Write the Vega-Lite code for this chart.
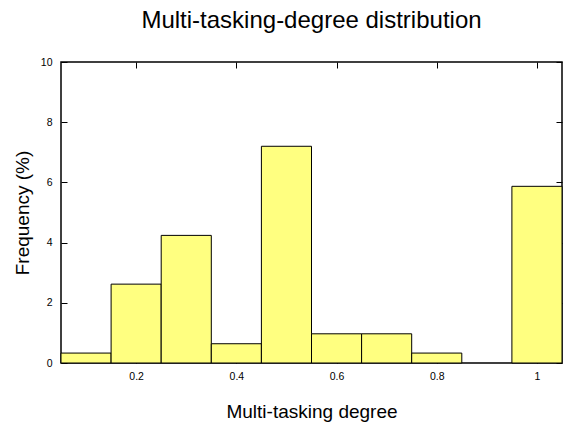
{
  "$schema": "https://vega.github.io/schema/vega-lite/v6.json",
  "autosize": "none",
  "width": 501,
  "height": 301,
  "padding": {"left": 61, "top": 62, "right": 18, "bottom": 62},
  "background": "white",
  "config": {
    "font": "Liberation Sans",
    "view": {"stroke": "black", "strokeWidth": 1.5},
    "axis": {"grid": false, "domain": false, "labelFont": "Liberation Sans", "titleFont": "Liberation Sans", "labelColor": "black", "titleColor": "black", "tickColor": "black", "titleFontWeight": "normal", "labelFontSize": 10.5}
  },
  "title": {"text": "Multi-tasking-degree distribution", "fontSize": 24, "fontWeight": "normal", "font": "Liberation Sans", "color": "black", "anchor": "middle", "offset": 24},
  "data": {"values": [
    {"start": 0.05, "end": 0.15, "freq": 0.33},
    {"start": 0.15, "end": 0.25, "freq": 2.62},
    {"start": 0.25, "end": 0.35, "freq": 4.24},
    {"start": 0.35, "end": 0.45, "freq": 0.64},
    {"start": 0.45, "end": 0.55, "freq": 7.2},
    {"start": 0.55, "end": 0.65, "freq": 0.97},
    {"start": 0.65, "end": 0.75, "freq": 0.97},
    {"start": 0.75, "end": 0.85, "freq": 0.33},
    {"start": 0.95, "end": 1.05, "freq": 5.87}
  ]},
  "layer": [
    {
      "mark": {"type": "bar", "fill": "#ffff80", "stroke": "black", "strokeWidth": 1},
      "encoding": {
        "x": {"field": "start", "type": "quantitative", "scale": {"domain": [0.05, 1.05], "nice": false, "zero": false, "padding": 0},
          "axis": {"values": [0.2, 0.4, 0.6, 0.8, 1], "format": "~g", "tickSize": -6, "labelPadding": 14, "title": "Multi-tasking degree", "titleFontSize": 19, "titlePadding": 21}},
        "x2": {"field": "end"},
        "y": {"field": "freq", "type": "quantitative", "scale": {"domain": [0, 10], "nice": false, "padding": 0},
          "axis": {"values": [0, 2, 4, 6, 8, 10], "tickSize": -6, "labelPadding": 15, "title": "Frequency (%)", "titleFontSize": 19, "titlePadding": 8}},
        "y2": {"datum": 0}
      }
    },
    {
      "mark": {"type": "bar", "opacity": 0},
      "encoding": {
        "x": {"field": "start", "type": "quantitative", "scale": {"domain": [0.05, 1.05], "nice": false, "zero": false, "padding": 0},
          "axis": {"orient": "top", "values": [0.2, 0.4, 0.6, 0.8, 1], "labels": false, "tickSize": -6, "title": null}},
        "x2": {"field": "end"},
        "y": {"field": "freq", "type": "quantitative", "scale": {"domain": [0, 10], "nice": false, "padding": 0},
          "axis": {"orient": "right", "values": [0, 2, 4, 6, 8, 10], "labels": false, "tickSize": -6, "title": null}}
      }
    }
  ],
  "resolve": {"axis": {"x": "independent", "y": "independent"}}
}
